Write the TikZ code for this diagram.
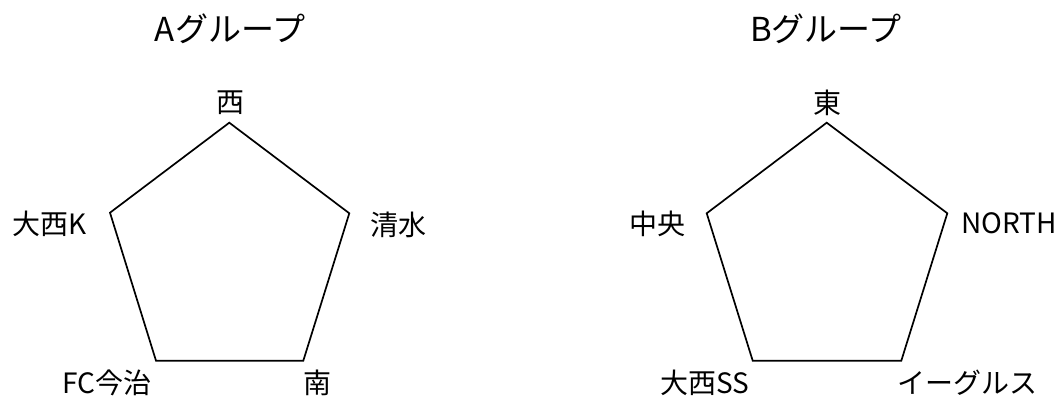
\documentclass[tikz,border=0pt]{standalone}
\usepackage{fontspec}
\setmainfont{Noto Sans CJK JP}
\begin{document}
\begin{tikzpicture}[x=1pt,y=-1pt,
  lbl/.style={inner sep=0pt,font=\fontsize{28}{30}\selectfont},
  ttl/.style={inner sep=0pt,font=\fontsize{33}{36}\selectfont},
  edge/.style={draw=black,line width=1.7pt,line join=miter}]
\useasboundingbox (0,0) rectangle (1059,398);
% Group A
\coordinate (a1) at (229.3,122.7);
\coordinate (a2) at (349.3,213.3);
\coordinate (a3) at (303.3,360.7);
\coordinate (a4) at (156,360.7);
\coordinate (a5) at (110,212.7);
\draw[edge] (a1) -- (a2) -- (a3) -- (a4) -- (a5) -- cycle;
\node[ttl] (ta) at (230,29) {Aグループ};
\node[lbl] (la1) at (230,103) {西};
\node[lbl] (la2) at (398,225) {清水};
\node[lbl] (la3) at (317,383) {南};
\node[lbl] (la4) at (107,383) {FC今治};
\node[lbl] (la5) at (50,224) {大西K};
% Group B
\coordinate (b1) at (826.7,122.7);
\coordinate (b2) at (947.3,213.3);
\coordinate (b3) at (901.3,360.7);
\coordinate (b4) at (752.7,360.7);
\coordinate (b5) at (706.7,213.3);
\draw[edge] (b1) -- (b2) -- (b3) -- (b4) -- (b5) -- cycle;
\node[ttl] (tb) at (826,29) {Bグループ};
\node[lbl] (lb1) at (827,103) {東};
\node[lbl] (lb2) at (1009,223) {NORTH};
\node[lbl] (lb3) at (967,383) {イーグルス};
\node[lbl] (lb4) at (705,383) {大西SS};
\node[lbl] (lb5) at (657,224) {中央};
\end{tikzpicture}
\end{document}
